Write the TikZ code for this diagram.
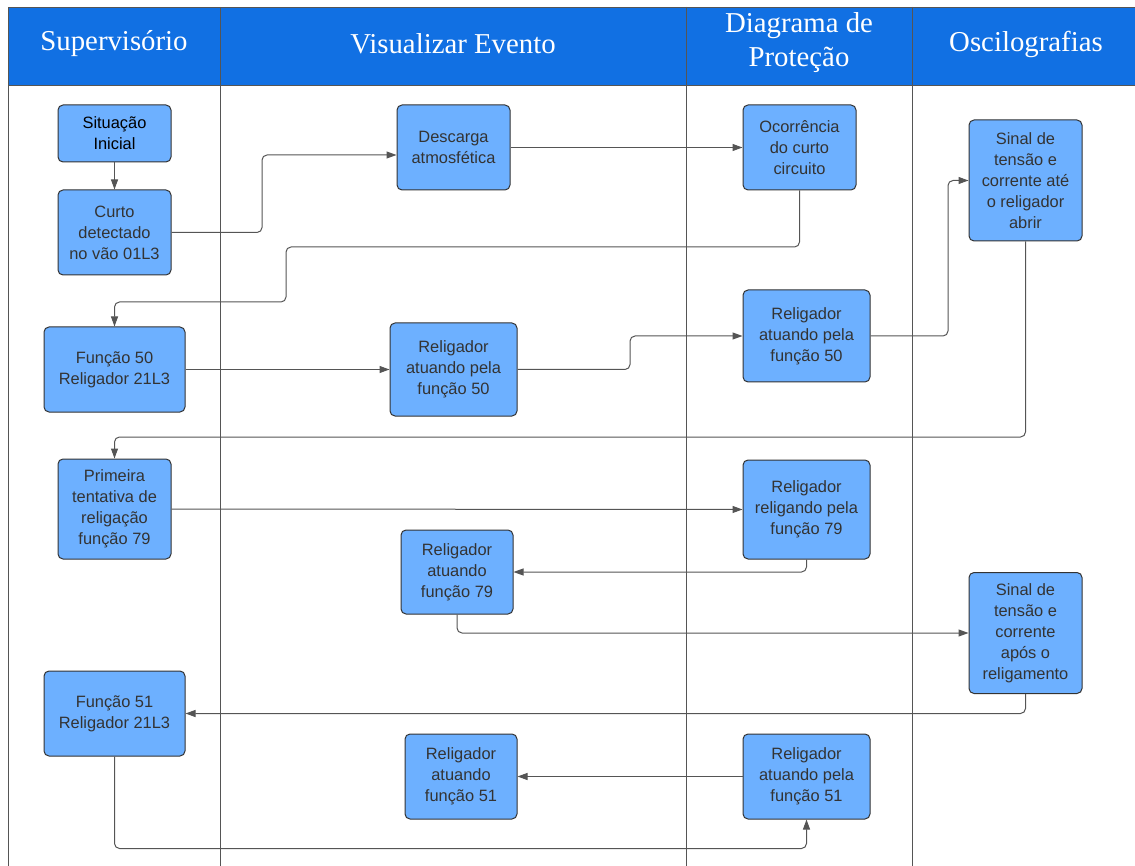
\documentclass[tikz,border=0pt]{standalone}
\usepackage{fontspec}
\setmainfont{Liberation Serif}
\newfontfamily\boxfont{Liberation Sans}
\usetikzlibrary{arrows.meta}
\definecolor{hdrblue}{HTML}{1170E3}
\definecolor{boxfill}{HTML}{6DB0FF}
\definecolor{boxline}{HTML}{333333}
\definecolor{txtgray}{HTML}{333333}
\definecolor{lanegray}{HTML}{555555}
\definecolor{conngray}{HTML}{555555}
\tikzset{
  box/.style={draw=boxline, line width=1pt, fill=boxfill, rounded corners=5pt,
    align=center, text=txtgray, inner sep=2pt,
    font=\boxfont\fontsize{16.4}{21}\selectfont},
  hdr/.style={text=white, align=center, font=\fontsize{28.8}{34}\selectfont},
  lane/.style={draw=lanegray, line width=0.9pt},
  conn/.style={draw=conngray, line width=1pt, rounded corners=5pt,
    -{Triangle[length=10pt,width=7pt]}, color=conngray},
}
\begin{document}
\begin{tikzpicture}[x=1pt,y=-1pt]
\useasboundingbox (0,0) rectangle (1135,866);
% header
\fill[hdrblue] (8,7) rectangle (1135,85);
\draw[lane] (8,866) -- (8,7) -- (1135,7);
\draw[lane] (8,85) -- (1135,85);
\draw[lane] (220,7) -- (220,866);
\draw[lane] (686,7) -- (686,866);
\draw[lane] (912.5,7) -- (912.5,866);
\node[hdr] (h1) at (114,44) {Supervisório};
\node[hdr] (h2) at (453,44) {Visualizar Evento};
\node[hdr] (h3) at (799,43) {Diagrama de\\Proteção};
\node[hdr] (h4) at (1026,44) {Oscilografias};
% boxes
\node[box, text=black, minimum width=113pt, minimum height=57pt] (sit) at (114.5,133.5) {Situação\\Inicial};
\node[box, minimum width=113pt, minimum height=85pt] (curto) at (114.5,232.5) {Curto\\detectado\\no vão 01L3};
\node[box, minimum width=113pt, minimum height=85pt] (desc) at (453.5,147.5) {Descarga\\atmosfética};
\node[box, minimum width=113pt, minimum height=85pt] (ocorr) at (799.5,147.5) {Ocorrência\\do curto\\circuito};
\node[box, minimum width=113pt, minimum height=121pt] (sinal1) at (1025.5,180.5) {Sinal de\\tensão e\\corrente até\\o religador\\abrir};
\node[box, minimum width=141pt, minimum height=85pt] (f50) at (114.5,369.5) {Função 50\\Religador 21L3};
\node[box, minimum width=127pt, minimum height=93pt] (ve50) at (453.5,369.5) {Religador\\atuando pela\\função 50};
\node[box, minimum width=127pt, minimum height=92pt] (dp50) at (806.5,336) {Religador\\atuando pela\\função 50};
\node[box, minimum width=113pt, minimum height=100pt] (prim) at (114.5,509) {Primeira\\tentativa de\\religação\\função 79};
\node[box, minimum width=127pt, minimum height=99pt] (dp79) at (806.5,509.5) {Religador\\religando pela\\função 79};
\node[box, minimum width=112pt, minimum height=84pt] (ve79) at (457,572) {Religador\\atuando\\função 79};
\node[box, minimum width=113pt, minimum height=121pt] (sinal2) at (1025.5,633) {Sinal de\\tensão e\\corrente\\após o\\religamento};
\node[box, minimum width=141pt, minimum height=85pt] (f51) at (114.5,713.5) {Função 51\\Religador 21L3};
\node[box, minimum width=112pt, minimum height=85pt] (ve51) at (461,776.5) {Religador\\atuando\\função 51};
\node[box, minimum width=127pt, minimum height=85pt] (dp51) at (806.5,776.5) {Religador\\atuando pela\\função 51};
% connectors
\draw[conn] (sit.south) -- (curto.north);
\draw[conn] (curto.east) -| (262,155) -- ([yshift=-7.5pt]desc.west);
\draw[conn] (desc.east) -- (ocorr.west);
\draw[conn] (ocorr.south) |- (286,247) -- (286,302) -| (f50.north);
\draw[conn] (f50.east) -- (ve50.west);
\draw[conn] (ve50.east) -| (630,336) -- (dp50.west);
\draw[conn] (dp50.east) -| (948,180.5) -- (sinal1.west);
\draw[conn] (sinal1.south) |- (114.5,437) -- (prim.north);
\draw[conn] (prim.east) -- (dp79.west);
\draw[conn] (dp79.south) |- (ve79.east);
\draw[conn] (ve79.south) |- (sinal2.west);
\draw[conn] (sinal2.south) |- (f51.east);
\draw[conn] (dp51.west) -- (ve51.east);
\draw[conn] (f51.south) -- ++(0,92) -| (dp51.south);
\end{tikzpicture}
\end{document}
